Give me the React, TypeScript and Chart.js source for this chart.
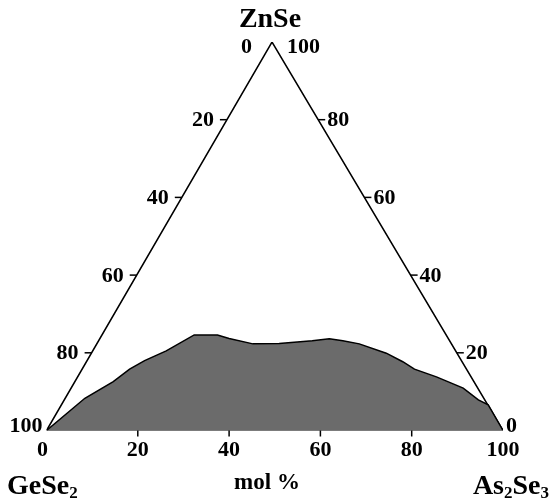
import React, { useEffect, useRef } from "react";
import { Chart, registerables } from "chart.js";

Chart.register(...registerables);

// Boundary of the shaded region (ternary composition, mol %)
const boundaryAs2Se3 = [0, 4.3, 8.4, 10.4, 12.6, 16.1, 20.2, 25.3, 28.3, 34.2, 39.9, 46.8, 50.3, 53.5, 57.5, 64.6, 69.3, 72.8, 78.6, 85.9, 90.7, 93.5, 100];
const boundaryZnSe = [0, 8.3, 12.6, 15.8, 18.0, 20.5, 24.6, 24.6, 23.7, 22.3, 22.4, 23.1, 23.6, 23.1, 22.3, 19.9, 17.7, 15.8, 13.8, 10.9, 7.9, 6.6, 0];

// Axis tick labels
const bottomTicks = [0, 20, 40, 60, 80, 100]; // As2Se3
const leftTicks = [0, 20, 40, 60, 80, 100]; // GeSe2
const rightTicks = [100, 80, 60, 40, 20, 0]; // ZnSe

const APEX = 0.494; // horizontal position of the ZnSe apex as a fraction of the base

function toXY(as2se3: number, znse: number) {
  return { x: as2se3 + znse * APEX, y: znse };
}

const FONT = '"Liberation Serif", "Times New Roman", serif';

const ternaryPlugin = {
  id: "ternaryLabels",
  afterDraw(chart: any) {
    const ctx = chart.ctx;
    const xs = chart.scales.x;
    const ys = chart.scales.y;
    const px = (a: number, z: number) => {
      const p = toXY(a, z);
      return { x: xs.getPixelForValue(p.x), y: ys.getPixelForValue(p.y) };
    };
    ctx.save();
    ctx.strokeStyle = "#000";
    ctx.lineWidth = 1.5;
    ctx.fillStyle = "#000";
    ctx.font = `bold 22px ${FONT}`;
    ctx.textBaseline = "alphabetic";
    const dy = 7.5;

    // bottom axis
    bottomTicks.forEach((v, i) => {
      const p = px(v, 0);
      if (i > 0 && i < bottomTicks.length - 1) {
        ctx.beginPath();
        ctx.moveTo(p.x, p.y);
        ctx.lineTo(p.x, p.y + 6);
        ctx.stroke();
      }
      ctx.textAlign = "center";
      ctx.fillText(String(v), p.x - (i === 0 ? 4 : 0), 448 + dy);
    });

    // left axis (GeSe2)
    leftTicks.forEach((v, i) => {
      const p = px(0, 100 - v);
      ctx.textAlign = "right";
      if (i === 0) {
        ctx.fillText(String(v), p.x - 20, p.y + 3 + dy);
      } else if (i === leftTicks.length - 1) {
        ctx.fillText(String(v), p.x - 4, p.y - 6 + dy);
      } else {
        ctx.beginPath();
        ctx.moveTo(p.x - 7, p.y);
        ctx.lineTo(p.x, p.y);
        ctx.stroke();
        ctx.fillText(String(v), p.x - 13, p.y - 1 + dy);
      }
    });

    // right axis (ZnSe)
    rightTicks.forEach((v, i) => {
      const p = px(100 - v, v);
      ctx.textAlign = "left";
      if (i === 0) {
        ctx.fillText(String(v), p.x + 15, p.y + 3 + dy);
      } else if (i === rightTicks.length - 1) {
        ctx.fillText(String(v), p.x + 3, p.y - 6 + dy);
      } else {
        ctx.beginPath();
        ctx.moveTo(p.x, p.y);
        ctx.lineTo(p.x + 7, p.y);
        ctx.stroke();
        ctx.fillText(String(v), p.x + 9, p.y - 1 + dy);
      }
    });

    // component names
    ctx.font = `bold 28px ${FONT}`;
    ctx.textAlign = "center";
    ctx.fillText("ZnSe", 270, 27);

    const drawFormula = (parts: [string, boolean][], x: number, y: number, align: string) => {
      const big = `bold 28px ${FONT}`;
      const small = `bold 17px ${FONT}`;
      let total = 0;
      parts.forEach(([t, sub]) => {
        ctx.font = sub ? small : big;
        total += ctx.measureText(t).width;
      });
      let cx = align === "right" ? x - total : x;
      ctx.textAlign = "left";
      parts.forEach(([t, sub]) => {
        ctx.font = sub ? small : big;
        ctx.fillText(t, cx, sub ? y + 4 : y);
        cx += ctx.measureText(t).width;
      });
    };
    drawFormula([["GeSe", false], ["2", true]], 7, 494, "left");
    drawFormula([["As", false], ["2", true], ["Se", false], ["3", true]], 549, 494, "right");

    ctx.font = `bold 23px ${FONT}`;
    ctx.textAlign = "center";
    ctx.fillText("mol %", 267, 489);
    ctx.restore();
  },
};

export default function App() {
  const ref = useRef<HTMLCanvasElement | null>(null);
  useEffect(() => {
    if (!ref.current) return;
    const region = boundaryAs2Se3.map((a, i) => toXY(a, boundaryZnSe[i]));
    const triangle = [toXY(0, 0), toXY(0, 100), toXY(100, 0), toXY(0, 0)];
    const chart = new Chart(ref.current, {
      type: "scatter",
      data: {
        datasets: [
          {
            data: region,
            showLine: true,
            fill: "origin",
            backgroundColor: "#6b6b6b",
            borderColor: "#000",
            borderWidth: 1.5,
            pointRadius: 0,
            tension: 0,
          },
          {
            data: triangle,
            showLine: true,
            fill: false,
            borderColor: "#000",
            borderWidth: 1.5,
            pointRadius: 0,
            tension: 0,
          },
        ],
      } as any,
      options: {
        responsive: false,
        animation: false,
        layout: { padding: { left: 46.5, top: 42, right: 47, bottom: 72.5 } },
        scales: {
          x: { type: "linear", min: 0, max: 100, display: false },
          y: { type: "linear", min: 0, max: 100, display: false },
        },
        plugins: { legend: { display: false }, tooltip: { enabled: false } },
      },
      plugins: [ternaryPlugin],
    });
    return () => chart.destroy();
  }, []);
  return (
    <div style={{ position: "absolute", left: 0, top: 0, width: 550, height: 503, background: "#fff" }}>
      <canvas ref={ref} width={550} height={503} style={{ width: 550, height: 503 }} />
    </div>
  );
}
